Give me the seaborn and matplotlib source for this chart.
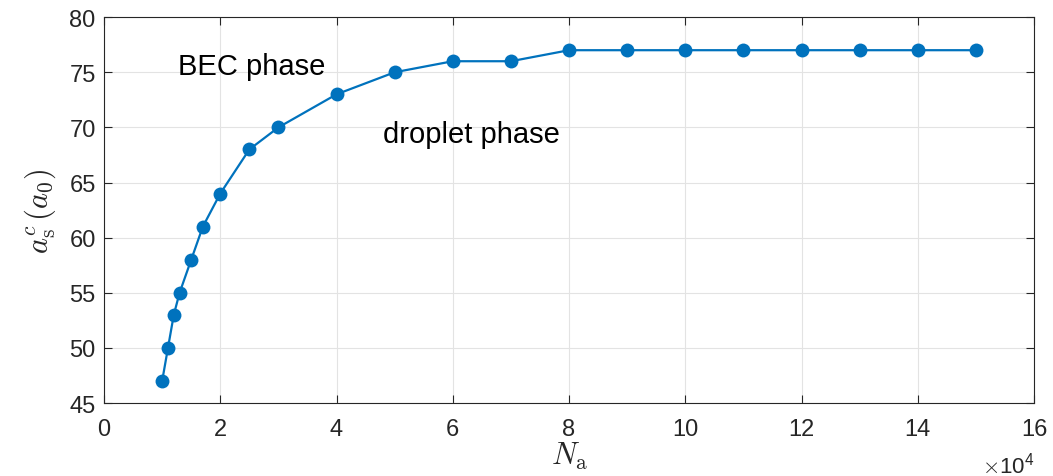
import matplotlib
matplotlib.use("Agg")
import matplotlib.pyplot as plt
import seaborn as sns
import pandas as pd
from matplotlib.ticker import FuncFormatter

# Data
n_atoms = [10000, 11000, 12000, 13000, 15000, 17000, 20000, 25000, 30000, 40000,
           50000, 60000, 70000, 80000, 90000, 100000, 110000, 120000, 130000, 140000, 150000]
a_crit = [47, 50, 53, 55, 58, 61, 64, 68, 70, 73,
          75, 76, 76, 77, 77, 77, 77, 77, 77, 77, 77]
x_ticks = [0, 2, 4, 6, 8, 10, 12, 14, 16]
y_ticks = [45, 50, 55, 60, 65, 70, 75, 80]

sns.set_theme(style="white")
plt.rcParams['font.family'] = ['Liberation Sans', 'DejaVu Sans']
plt.rcParams['mathtext.fontset'] = 'cm'

df = pd.DataFrame({"N": n_atoms, "a": a_crit})

fig = plt.figure(figsize=(10.53, 4.77), dpi=100)
ax = fig.add_axes([0.0988, 0.153, 0.8832, 0.809])

sns.lineplot(data=df, x="N", y="a", ax=ax, color="#0072BD", linewidth=1.6,
             marker="o", markersize=10, markeredgecolor="#0072BD", markeredgewidth=0)

ax.set_xlim(0, 160000)
ax.set_ylim(45, 80)
ax.set_xticks([t * 1e4 for t in x_ticks])
ax.xaxis.set_major_formatter(FuncFormatter(lambda v, p: f"{v/1e4:g}"))
ax.set_yticks(y_ticks)

ax.grid(True, color="#e3e3e3", linewidth=0.8)
ax.set_axisbelow(True)
for s in ax.spines.values():
    s.set_color("#262626")
    s.set_linewidth(0.8)
    s.set_visible(True)
ax.tick_params(axis="both", which="both", direction="in", length=6, width=0.8,
               colors="#262626", labelsize=17, top=True, right=True,
               bottom=True, left=True, labelcolor="#262626")
ax.tick_params(axis="x", pad=11)
ax.tick_params(axis="y", pad=6)

ax.set_xlabel(r"$N_{\rm a}$", fontsize=22, color="#262626", labelpad=0)
ax.set_ylabel(r"$a_{\rm s}^{c}\,(a_0)$", fontsize=22, color="#262626", labelpad=8)

ax.text(1.0, -0.125, r"$\times\mathregular{10^4}$", transform=ax.transAxes,
        ha="right", va="top", fontsize=16, color="#262626")

ax.text(12700, 75.6, "BEC phase", fontsize=21, color="black", ha="left", va="center")
ax.text(48000, 69.4, "droplet phase", fontsize=21, color="black", ha="left", va="center")

fig.savefig("out.png", dpi=100)
